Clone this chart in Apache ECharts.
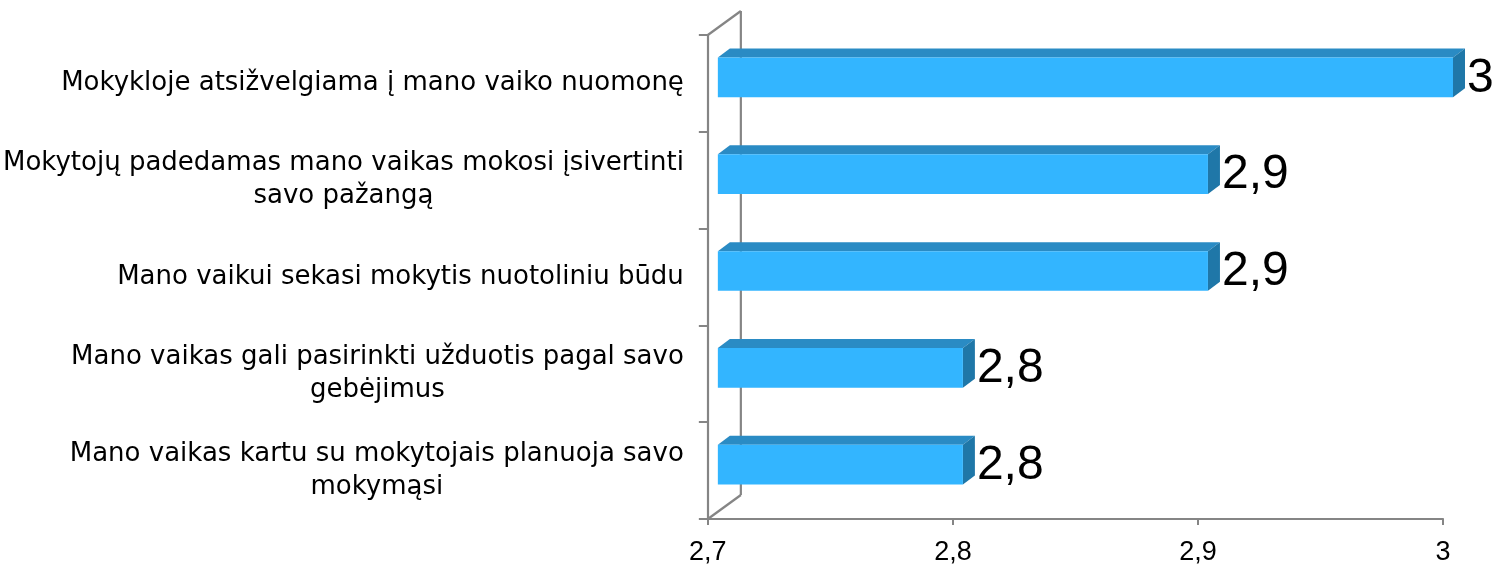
<!DOCTYPE html>
<html>
<head>
<meta charset="utf-8">
<script src="https://cdn.jsdelivr.net/npm/echarts@6/dist/echarts.min.js"></script>
<style>
  html, body { margin: 0; padding: 0; background: #fff; }
  #main { width: 1499px; height: 566px; }
</style>
</head>
<body>
<div id="main"></div>
<script>
// kategorijos (iš viršaus į apačią)
const categories = [
  'Mokykloje atsižvelgiama į mano vaiko nuomonę',
  'Mokytojų padedamas mano vaikas mokosi įsivertinti\nsavo pažangą',
  'Mano vaikui sekasi mokytis nuotoliniu būdu',
  'Mano vaikas gali pasirinkti užduotis pagal savo\ngebėjimus',
  'Mano vaikas kartu su mokytojais planuoja savo\nmokymąsi'
];
const values = [3.0, 2.9, 2.9, 2.8, 2.8];
const axisMin = 2.7;
const axisMax = 3;
const axisStep = 0.1;

const FONT = '"DejaVu Sans", sans-serif';
const NUM_FONT = '"Liberation Sans", Arial, sans-serif';
const LINE = '#858585';
const DEPTH_X = 12, DEPTH_Y = 9;      // gylis juostoms
const WALL_X = 33, WALL_Y = 24;       // galinė siena

function fmt(v) {
  return String(Number(v.toFixed(1))).replace('.', ',');
}

function renderBar(params, api) {
  const i = api.value(0);
  const v = api.value(1);
  const p0 = api.coord([axisMin, i]);
  const p1 = api.coord([v, i]);
  const band = api.size([0, 1])[1];
  const h = band * 0.41;
  const cy = p0[1] - 6;
  const x0 = p0[0] + 10, x1 = p1[0] + 10;
  const yt = cy - h / 2, yb = cy + h / 2;
  const children = [];

  if (params.dataIndex === 0) {
    const cs = params.coordSys;
    const bx = cs.x, by = cs.y + cs.height;
    const line = { stroke: LINE, lineWidth: 2.2 };
    children.push(
      { type: 'line', shape: { x1: bx + WALL_X, y1: cs.y - WALL_Y, x2: bx + WALL_X, y2: by - WALL_Y }, style: line },
      { type: 'line', shape: { x1: bx, y1: cs.y, x2: bx + WALL_X, y2: cs.y - WALL_Y }, style: line },
      { type: 'line', shape: { x1: bx, y1: by, x2: bx + WALL_X, y2: by - WALL_Y }, style: line }
    );
  }

  children.push(
    { type: 'polygon', shape: { points: [[x0, yt], [x0 + DEPTH_X, yt - DEPTH_Y], [x1 + DEPTH_X, yt - DEPTH_Y], [x1, yt]] },
      style: { fill: '#2a8bc4' } },
    { type: 'polygon', shape: { points: [[x1, yt], [x1 + DEPTH_X, yt - DEPTH_Y], [x1 + DEPTH_X, yb - DEPTH_Y], [x1, yb]] },
      style: { fill: '#1f77a8' } },
    { type: 'rect', shape: { x: x0, y: yt, width: x1 - x0, height: h },
      style: { fill: '#33b5ff' } },
    { type: 'text', x: x1 + DEPTH_X + 2, y: cy + 1,
      style: { text: fmt(v), fill: '#000', font: '48px ' + NUM_FONT, verticalAlign: 'middle', align: 'left' } }
  );
  return { type: 'group', children: children };
}

const chart = echarts.init(document.getElementById('main'));
chart.setOption({
  backgroundColor: '#fff',
  animation: false,
  grid: { left: 707, right: 56, top: 35, bottom: 46 },
  xAxis: {
    type: 'value',
    min: axisMin,
    max: axisMax,
    interval: axisStep,
    splitLine: { show: false },
    axisLine: { show: true, lineStyle: { color: LINE, width: 2.2 } },
    axisTick: { show: true, length: 6, lineStyle: { color: LINE, width: 2 } },
    axisLabel: {
      margin: 20,
      color: '#000',
      fontFamily: NUM_FONT,
      fontSize: 27,
      formatter: fmt
    }
  },
  yAxis: {
    type: 'category',
    inverse: true,
    data: categories,
    axisLine: { show: true, lineStyle: { color: LINE, width: 2.2 } },
    axisTick: { show: true, length: 9, lineStyle: { color: LINE, width: 2 } },
    axisLabel: {
      margin: 24,
      color: '#000',
      fontFamily: FONT,
      fontSize: 26,
      lineHeight: 33,
      formatter: function (val) {
        return val.split('\n').map(function (s) { return '{c|' + s + '}'; }).join('\n');
      },
      rich: {
        c: { align: 'center', fontFamily: FONT, fontSize: 26, lineHeight: 33, color: '#000' }
      }
    }
  },
  series: [{
    type: 'custom',
    renderItem: renderBar,
    encode: { x: 1, y: 0 },
    data: values.map(function (v, i) { return [i, v]; })
  }]
});
</script>
</body>
</html>
